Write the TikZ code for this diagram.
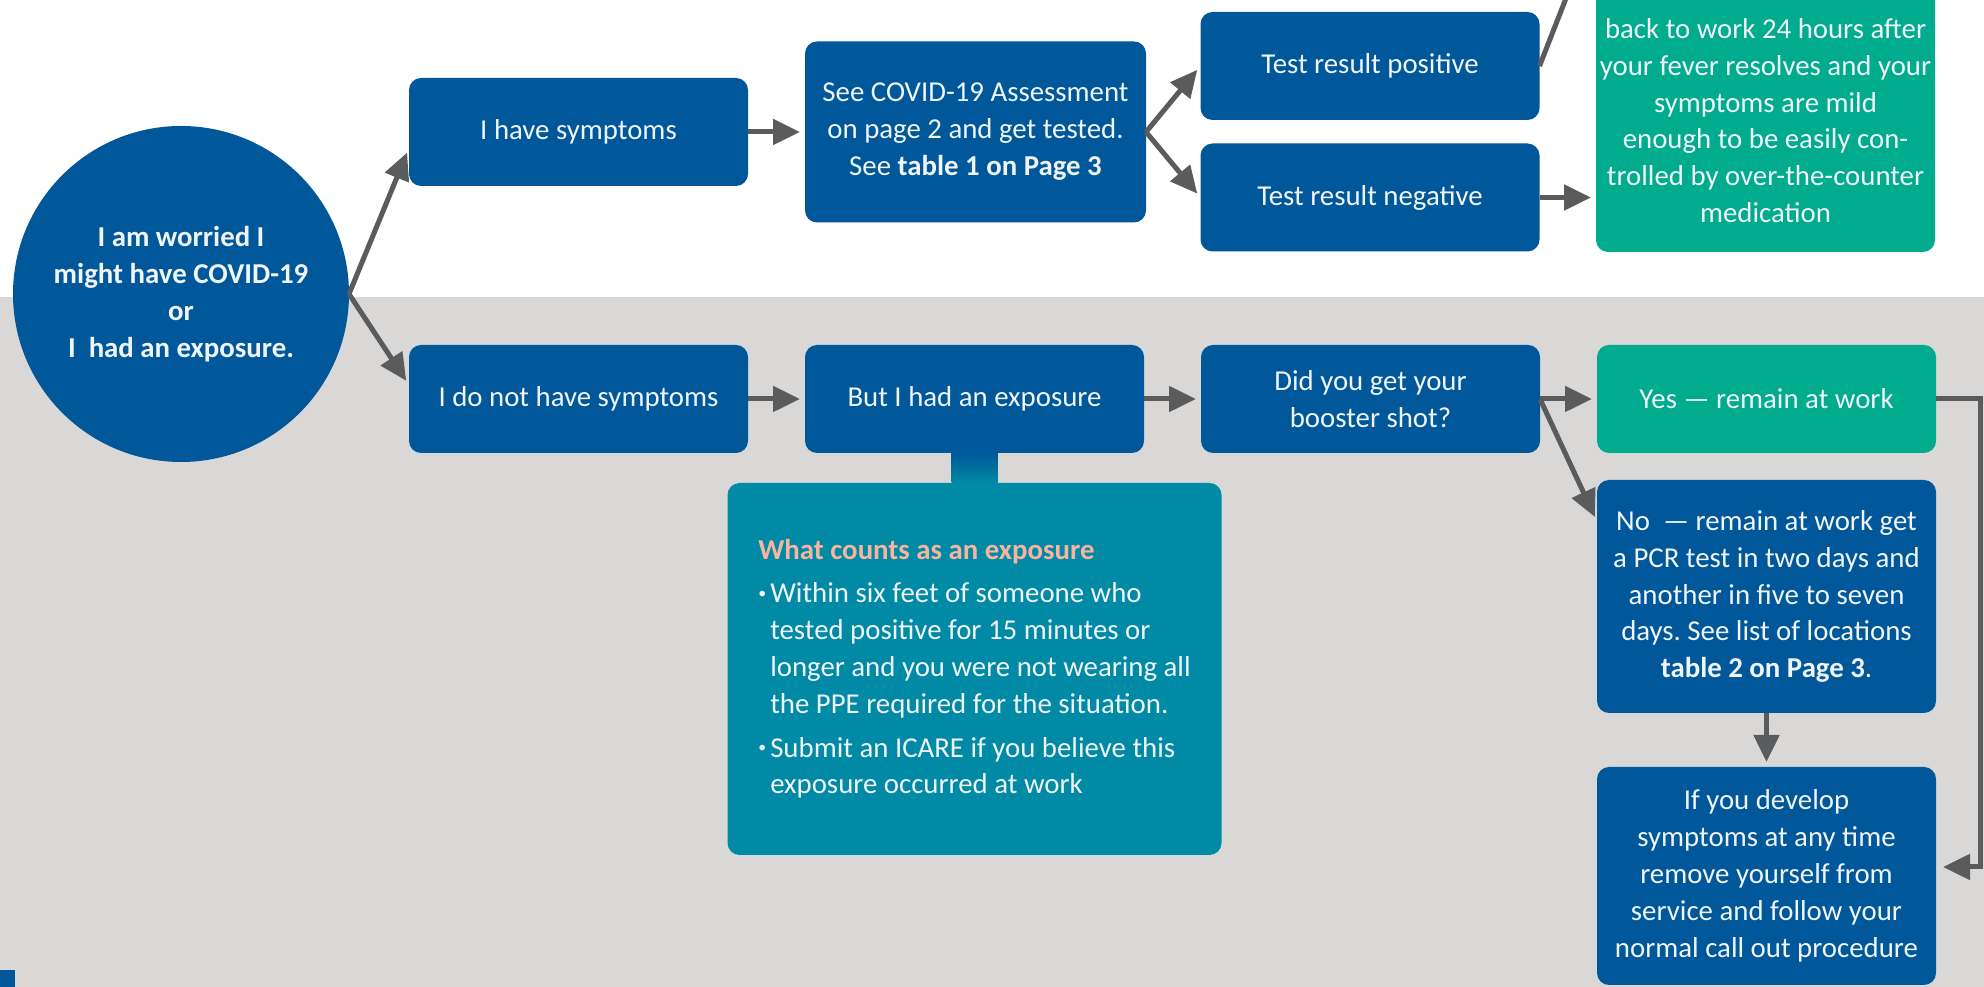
\documentclass[tikz,border=0pt]{standalone}
\usepackage{fontspec}
\setmainfont{Carlito}
\usetikzlibrary{positioning}
\usetikzlibrary{arrows.meta}
\frenchspacing

\definecolor{boxblue}{HTML}{005799}
\definecolor{boxgreen}{HTML}{00AB8E}
\definecolor{boxteal}{HTML}{008AA5}
\definecolor{boxtext}{HTML}{F0F5FA}
\definecolor{bandgray}{HTML}{D9D8D6}
\definecolor{arrowgray}{HTML}{5A5B5D}
\definecolor{salmon}{HTML}{F7B5A0}

\newcommand{\itemdot}{\makebox[1.2mm][l]{\raisebox{0.3ex}{\scalebox{0.55}{\textbullet}}}}
\newcommand{\itemgap}{\hspace*{1.2mm}}

\begin{document}
\begin{tikzpicture}[
x=0.1mm, y=-0.1mm,
node distance=5.7mm,
box/.style={rectangle, rounded corners=1.2mm, fill=boxblue, text=boxtext, minimum width=33.9mm, minimum height=10.8mm, align=center, inner sep=0pt, outer sep=0pt, font=\fontsize{8.2}{10.5}\selectfont},
greenbox/.style={box, fill=boxgreen},
whatbox/.style={rectangle, rounded corners=1.2mm, fill=boxteal, text=boxtext, minimum width=49.4mm, minimum height=37.2mm, inner sep=0pt, outer sep=0pt, align=left, font=\fontsize{8.2}{10.5}\selectfont},
roundnode/.style={circle, fill=boxblue, text=boxtext, minimum size=33.6mm, align=center, inner sep=0pt, outer sep=0pt, font=\fontsize{8.2}{10.5}\selectfont\bfseries},
edge/.style={draw=arrowgray, line width=0.5mm, shorten >=0.5mm, -{Triangle[length=2.7mm,width=2.5mm]}}
]
\useasboundingbox (0,0) rectangle (1984,987);
\clip (0,0) rectangle (1984,987);

%Background
\fill[white] (0,0) rectangle (1984,297);
\fill[bandgray] (0,297) rectangle (1984,987);
\fill[boxblue] (0,970) rectangle (15,987);

%Nodes
\node[roundnode]        (worry)    at (181,294)        {I am worried I\\ might have COVID-19\\ or\\ I\ \ had an exposure.};

\node[box]              (hs)       at (578.5,132)      {I have symptoms};
\node[box, minimum width=34.1mm, minimum height=18.1mm] (assess) [right=of hs] {See COVID-19 Assessment\\ on page 2 and get tested.\\ See \textbf{table 1 on Page 3}};
\node[box]              (pos)      at (1370,66)        {Test result positive};
\node[box]              (neg)      at (1370,197.5)     {Test result negative};
\node[greenbox, minimum height=0pt, inner ysep=2.9mm, anchor=south] (ret) at (1765.5,252) {back to work 24 hours after\\ your fever resolves and your\\ symptoms are mild\\ enough to be easily con-\\ trolled by over-the-counter\\ medication};
\coordinate (retin) at (1590,-63);

\node[box]              (nosym)    at (578.5,399)      {I do not have symptoms};
\node[box]              (expo)     [right=of nosym]    {But I had an exposure};
\node[box]              (boost)    [right=of expo]     {Did you get your\\ booster shot?};
\node[greenbox]         (yes)      [right=of boost]    {Yes --- remain at work};
\node[box, minimum height=23.3mm] (no) [below=2.7mm of yes] {No\ \ --- remain at work get\\ a PCR test in two days and\\ another in five to seven\\ days. See list of locations\\ \textbf{table 2 on Page 3}.};
\node[box, minimum height=21.8mm] (dev) [below=5.4mm of no] {If you develop\\ symptoms at any time\\ remove yourself from\\ service and follow your\\ normal call out procedure};

\node[whatbox]          (what)     [below=3mm of expo] {%
{\bfseries\color{salmon}What counts as an exposure}\\[0.6mm]
\itemdot Within six feet of someone who\\
\itemgap tested positive for 15 minutes or\\
\itemgap longer and you were not wearing all\\
\itemgap the PPE required for the situation.\\[0.7mm]
\itemdot Submit an ICARE if you believe this\\
\itemgap exposure occurred at work};
\shade[top color=boxblue, bottom color=boxteal] ([xshift=-2.3mm]expo.south) rectangle ([xshift=2.3mm]what.north);

%Lines
\draw[edge] (worry.east) -- ([yshift=-1.6mm]hs.west);
\draw[edge] (worry.east) -- ([yshift=1.4mm]nosym.west);

\draw[edge] (hs.east) -- (assess.west);
\draw[edge] (assess.east) -- (pos.west);
\draw[edge] (assess.east) -- (neg.west);
\draw[edge] (pos.east) -- (retin);
\draw[edge] (neg.east) -- (neg.east -| ret.west);

\draw[edge] (nosym.east) -- (expo.west);
\draw[edge] (expo.east) -- (boost.west);
\draw[edge] (boost.east) -- (yes.west);
\draw[edge] (boost.east) -- ([yshift=7.5mm]no.west);
\draw[edge] (no.south) -- (dev.north);
\draw[edge, shorten >=0pt] (yes.east) -- ++(4.4mm,0) |- ([xshift=0.7mm,yshift=0.9mm]dev.east);

\end{tikzpicture}
\end{document}
